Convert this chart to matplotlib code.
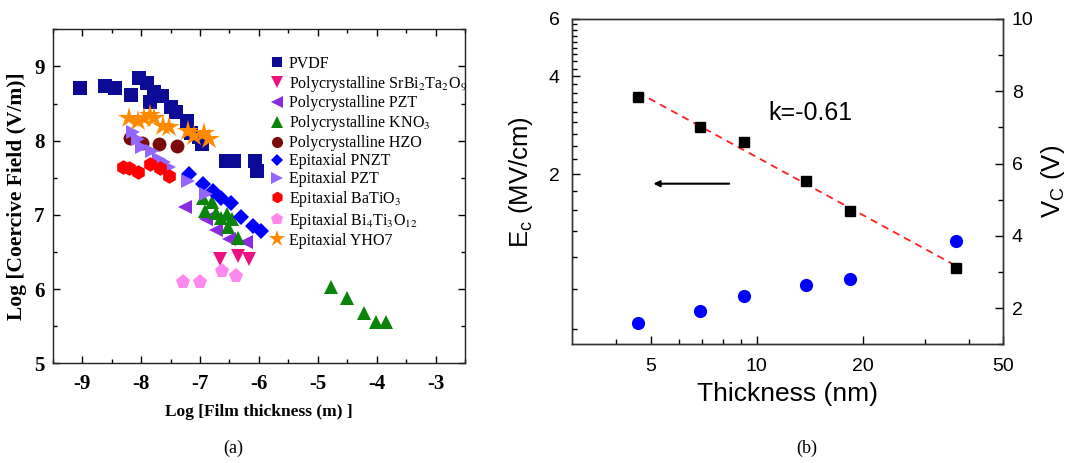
import matplotlib
matplotlib.use('Agg')
import matplotlib.pyplot as plt
import numpy as np
from matplotlib.ticker import FixedLocator, MultipleLocator, NullFormatter, FixedFormatter

plt.rcParams['mathtext.fontset'] = 'custom'
plt.rcParams['mathtext.rm'] = 'Liberation Sans'
plt.rcParams['mathtext.it'] = 'Liberation Sans:italic'
plt.rcParams['axes.unicode_minus'] = False

# ---- panel (a): log coercive field vs log film thickness ----
pvdf_x = [-9.03, -8.62, -8.44, -8.17, -8.03, -7.9, -7.85, -7.78, -7.65, -7.5, -7.4, -7.22, -7.15, -7.02, -6.97, -6.55, -6.43, -6.07, -6.03]
pvdf_y = [8.71, 8.74, 8.71, 8.62, 8.85, 8.77, 8.52, 8.65, 8.6, 8.45, 8.38, 8.27, 8.1, 8.05, 7.95, 7.72, 7.72, 7.72, 7.59]
sbt_x = [-6.66, -6.35, -6.17]
sbt_y = [6.41, 6.44, 6.40]
poly_pzt_x = [-7.25, -6.9, -6.72, -6.5, -6.22]
poly_pzt_y = [7.1, 6.95, 6.8, 6.68, 6.63]
kno3_x = [-6.95, -6.92, -6.8, -6.72, -6.64, -6.54, -6.45, -6.52, -6.35, -4.77, -4.51, -4.21, -4.02, -3.85]
kno3_y = [7.23, 7.05, 7.17, 7.03, 6.96, 7.01, 6.94, 6.83, 6.69, 6.03, 5.88, 5.68, 5.55, 5.55]
hzo_x = [-8.18, -7.99, -7.69, -7.39]
hzo_y = [8.03, 7.97, 7.96, 7.93]
pnzt_x = [-7.18, -6.95, -6.78, -6.64, -6.47, -6.31, -6.1, -5.97]
pnzt_y = [7.55, 7.41, 7.32, 7.23, 7.16, 6.97, 6.85, 6.78]
epi_pzt_x = [-8.14, -8.05, -7.99, -7.82, -7.7, -7.61, -7.53, -7.21, -6.89]
epi_pzt_y = [8.11, 8.02, 7.91, 7.86, 7.75, 7.71, 7.64, 7.46, 7.28]
bto_x = [-8.3, -8.2, -8.05, -7.85, -7.68, -7.52]
bto_y = [7.64, 7.63, 7.58, 7.68, 7.63, 7.52]
bit_x = [-7.28, -7.0, -6.62, -6.39]
bit_y = [6.1, 6.1, 6.25, 6.18]
yho_x = [-8.2, -8.05, -7.95, -7.85, -7.78, -7.62, -7.52, -7.2, -7.1, -6.93, -6.85]
yho_y = [8.3, 8.27, 8.3, 8.35, 8.3, 8.2, 8.18, 8.13, 8.06, 8.1, 8.02]

# ---- panel (b): Ec and Vc vs thickness ----
thick_nm = [4.6, 6.9, 9.2, 13.8, 18.4, 36.8]
ec_mv = [3.45, 2.79, 2.51, 1.90, 1.54, 1.03]
vc_v = [1.59, 1.92, 2.33, 2.64, 2.82, 3.86]
slope_text = 'k=-0.61'

fig = plt.figure(figsize=(10.7, 4.63), dpi=100)

# ---------------- (a) ----------------
ax1 = fig.add_axes([0.0493, 0.2153, 0.3853, 0.7214])
serif = 'Liberation Serif'
series = [
    (pvdf_x, pvdf_y, 's', '#0b0b95', 9.5, 'PVDF'),
    (sbt_x, sbt_y, 'v', '#ee1280', 10.5, r'Polycrystalline SrBi$_2$Ta$_2$O$_9$'),
    (poly_pzt_x, poly_pzt_y, '<', '#8a2be2', 10.5, 'Polycrystalline PZT'),
    (kno3_x, kno3_y, '^', '#0b840b', 10.5, r'Polycrystalline KNO$_3$'),
    (hzo_x, hzo_y, 'o', '#7d0a0a', 10, 'Polycrystalline HZO'),
    (pnzt_x, pnzt_y, 'D', '#0000ff', 8, 'Epitaxial PNZT'),
    (epi_pzt_x, epi_pzt_y, '>', '#9366ff', 10.5, 'Epitaxial PZT'),
    (bto_x, bto_y, 'h', '#ff0000', 10.5, r'Epitaxial BaTiO$_3$'),
    (bit_x, bit_y, 'p', '#ff88ee', 11, r'Epitaxial Bi$_4$Ti$_3$O$_{12}$'),
    (yho_x, yho_y, '*', '#ff8a00', 16, 'Epitaxial YHO7'),
]
handles = []
for xs, ys, mk, col, ms, lab in series:
    h, = ax1.plot(xs, ys, linestyle='none', marker=mk, color=col, markersize=ms,
                  markeredgewidth=0, label=lab)
    handles.append(h)

ax1.set_xlim(-9.5, -2.5)
ax1.set_ylim(5, 9.5)
ax1.xaxis.set_major_locator(FixedLocator([-9, -8, -7, -6, -5, -4, -3]))
ax1.yaxis.set_major_locator(FixedLocator([5, 6, 7, 8, 9]))
ax1.xaxis.set_minor_locator(MultipleLocator(0.5))
ax1.yaxis.set_minor_locator(MultipleLocator(0.5))
ax1.tick_params(which='both', direction='in', top=True, right=True, width=1.0)
ax1.tick_params(which='major', length=5)
ax1.tick_params(which='minor', length=3)
ax1.tick_params(axis='x', pad=8)
ax1.tick_params(axis='y', pad=6)
for lbl in ax1.get_xticklabels() + ax1.get_yticklabels():
    lbl.set_fontfamily(serif)
    lbl.set_fontweight('bold')
    lbl.set_fontsize(15)
for sp in ax1.spines.values():
    sp.set_linewidth(1.0)
    sp.set_color('#222222')
ax1.set_xlabel('Log [Film thickness (m) ]', fontfamily=serif, fontweight='bold', fontsize=12.5, labelpad=7)
ax1.set_ylabel('Log [Coercive Field (V/m)]', fontfamily=serif, fontweight='bold', fontsize=15.5, labelpad=5)

leg = ax1.legend(handles=handles, loc='upper left', bbox_to_anchor=(0.51, 0.945), frameon=False,
                 prop={'family': serif, 'size': 11.5, 'math_fontfamily': 'stix'},
                 handlelength=0.8, handletextpad=0.3, labelspacing=0.12, borderpad=0,
                 markerscale=0.8)

# ---------------- (b) ----------------
ax2 = fig.add_axes([0.5349, 0.2564, 0.4028, 0.7026])
ax3 = ax2.twinx()

sans = 'Liberation Sans'
ax2.set_xscale('log')
ax2.set_yscale('log')
ax2.set_xlim(3, 50)
ax2.set_ylim(0.6, 6)

# power-law fit in log-log space
lx = np.log10(thick_nm)
ly = np.log10(ec_mv)
p = np.polyfit(lx, ly, 1)
fit_x = np.array([thick_nm[0], thick_nm[-1]])
fit_y = 10 ** np.polyval(p, np.log10(fit_x))
ax2.plot(fit_x, fit_y, color='#ff2020', linestyle=(0, (4, 3)), linewidth=1.3, zorder=2)
ax2.plot(thick_nm, ec_mv, linestyle='none', marker='s', color='black', markersize=7.5, zorder=3)

ax3.plot(thick_nm, vc_v, linestyle='none', marker='o', color='#0000ff', markersize=9.5, markeredgewidth=0)
ax3.set_ylim(1, 10)
ax3.yaxis.set_major_locator(FixedLocator([2, 4, 6, 8, 10]))
ax3.yaxis.set_minor_locator(MultipleLocator(1))

ax2.xaxis.set_major_locator(FixedLocator([5, 10, 20, 50]))
ax2.xaxis.set_major_formatter(FixedFormatter(['5', '10', '20', '50']))
ax2.xaxis.set_minor_locator(FixedLocator([4, 6, 7, 8, 9, 30, 40]))
ax2.xaxis.set_minor_formatter(NullFormatter())
ax2.yaxis.set_major_locator(FixedLocator([2, 4, 6]))
ax2.yaxis.set_major_formatter(FixedFormatter(['2', '4', '6']))
ec_minor = [v for v in np.arange(0, 6.01, 2 / 9) if 0.6 < v < 6 and min(abs(v - m) for m in (2, 4, 6)) > 1e-6]
ax2.yaxis.set_minor_locator(FixedLocator(ec_minor))
ax2.yaxis.set_minor_formatter(NullFormatter())

for a in (ax2, ax3):
    a.tick_params(which='both', direction='in', width=1.0, labelsize=14)
    a.tick_params(which='major', length=6)
    a.tick_params(which='minor', length=3.5)
    for lbl in a.get_xticklabels() + a.get_yticklabels():
        lbl.set_fontfamily(sans)
    for sp in a.spines.values():
        sp.set_linewidth(1.0)
        sp.set_color('#333333')
ax2.tick_params(axis='x', pad=10)
ax2.tick_params(axis='y', pad=9)
ax3.tick_params(axis='y', pad=6)

ax2.set_xlabel('Thickness (nm)', fontfamily=sans, fontsize=19, labelpad=5)
ax2.set_ylabel(r'E$_\mathrm{c}$ (MV/cm)', fontfamily=sans, fontsize=18.5, labelpad=10)
ax3.set_ylabel(r'V$_\mathrm{C}$ (V)', fontfamily=sans, fontsize=18.5, labelpad=4)

ax2.annotate('', xy=(5.0, 1.87), xytext=(8.5, 1.87),
             arrowprops=dict(arrowstyle='-|>', color='black', lw=1.5, mutation_scale=9))
ax2.text(10.8, 3.09, slope_text, fontfamily=sans, fontsize=18, va='center', ha='left')

fig.text(0.218, 0.032, '(a)', fontfamily=serif, fontsize=13, ha='center', va='center')
fig.text(0.754, 0.032, '(b)', fontfamily=serif, fontsize=13, ha='center', va='center')

fig.savefig('out.png', dpi=100)
